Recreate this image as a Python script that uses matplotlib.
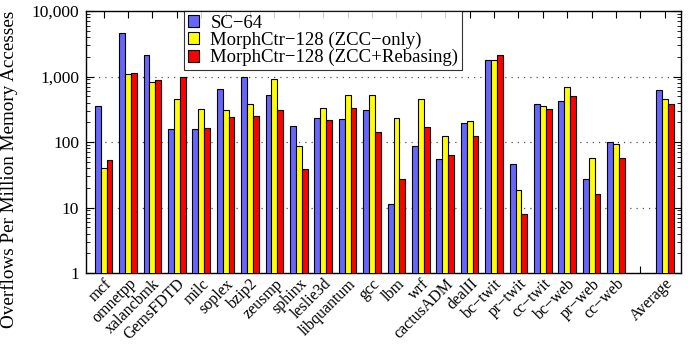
import numpy as np
import matplotlib
matplotlib.use("Agg")
import matplotlib.pyplot as plt
from matplotlib.ticker import FixedLocator, LogLocator, NullFormatter

plt.rcParams["font.family"] = ["Liberation Serif", "DejaVu Serif"]

# --- data ---
benchmarks = ["mcf", "omnetpp", "xalancbmk", "GemsFDTD", "milc", "soplex", "bzip2",
              "zeusmp", "sphinx", "leslie3d", "libquantum", "gcc", "lbm", "wrf",
              "cactusADM", "dealII", "bc\u2212twit", "pr\u2212twit", "cc\u2212twit",
              "bc\u2212web", "pr\u2212web", "cc\u2212web", "", "Average"]

sc64 = [355, 4600, 2130, 158, 158, 645, 1000, 520, 175, 233, 225, 310, 11.3, 87,
        55, 195, 1780, 46, 380, 425, 27, 100, np.nan, 620]
zcc_only = [40, 1090, 825, 455, 320, 310, 380, 915, 87, 330, 520, 520, 233, 455,
            123, 210, 1780, 18.5, 355, 690, 57, 94, np.nan, 455]
zcc_rebase = [53, 1130, 890, 1000, 164, 240, 250, 310, 39, 218, 330, 142, 27, 170,
              63, 123, 2130, 8, 320, 505, 16, 57, np.nan, 380]

series = [
    ("SC\u221264", sc64, "#6666ff"),
    ("MorphCtr\u2212128 (ZCC\u2212only)", zcc_only, "#ffff00"),
    ("MorphCtr\u2212128 (ZCC+Rebasing)", zcc_rebase, "#ff0000"),
]

fig = plt.figure(figsize=(6.97, 3.45), dpi=100)
ax = fig.add_axes([86 / 697, 1 - 273 / 345, 595 / 697, 262 / 345])

x = np.arange(len(benchmarks))
w = 0.24
for i, (name, vals, col) in enumerate(series):
    ax.bar(x + (i - 1) * w, vals, w, color=col, edgecolor="black", linewidth=0.8,
           label=name, zorder=3)

ax.set_yscale("log")
ax.set_ylim(1, 10000)
ax.set_xlim(-0.72, len(benchmarks) - 0.34)
ax.yaxis.set_major_locator(FixedLocator([1, 10, 100, 1000, 10000]))
ax.set_yticklabels(["1", "10", "100", "1,000", "10,000"])
ax.yaxis.set_minor_locator(LogLocator(base=10, subs=np.arange(2, 10)))
ax.yaxis.set_minor_formatter(NullFormatter())

for yv in [10, 100, 1000]:
    ax.axhline(yv, color="#555555", linestyle=(0, (1, 4)), linewidth=0.9, zorder=1)

ax.set_xticks(x)
ax.set_xticklabels(benchmarks, rotation=45, ha="right", va="top",
                   rotation_mode="anchor", fontsize=11.5)
ax.tick_params(axis="both", which="both", direction="in", top=True, right=True)
ax.tick_params(axis="x", length=5, pad=2)
ax.tick_params(axis="y", which="major", length=6, labelsize=12.5, pad=5)
ax.tick_params(axis="y", which="minor", length=3)

ax.set_ylabel("Overflows Per Million Memory Accesses", fontsize=13.8)
ax.yaxis.set_label_coords(-0.115, 0.397)

leg = ax.legend(loc="upper left", bbox_to_anchor=(0.165, 1.0), fontsize=13.5,
                frameon=True, fancybox=False, edgecolor="black",
                borderpad=0.2, labelspacing=0.0, handlelength=0.6,
                handleheight=0.6, handletextpad=0.6, borderaxespad=0)
leg.get_frame().set_linewidth(0.8)

for s in ax.spines.values():
    s.set_linewidth(1.0)

fig.savefig("out.png", dpi=100)
